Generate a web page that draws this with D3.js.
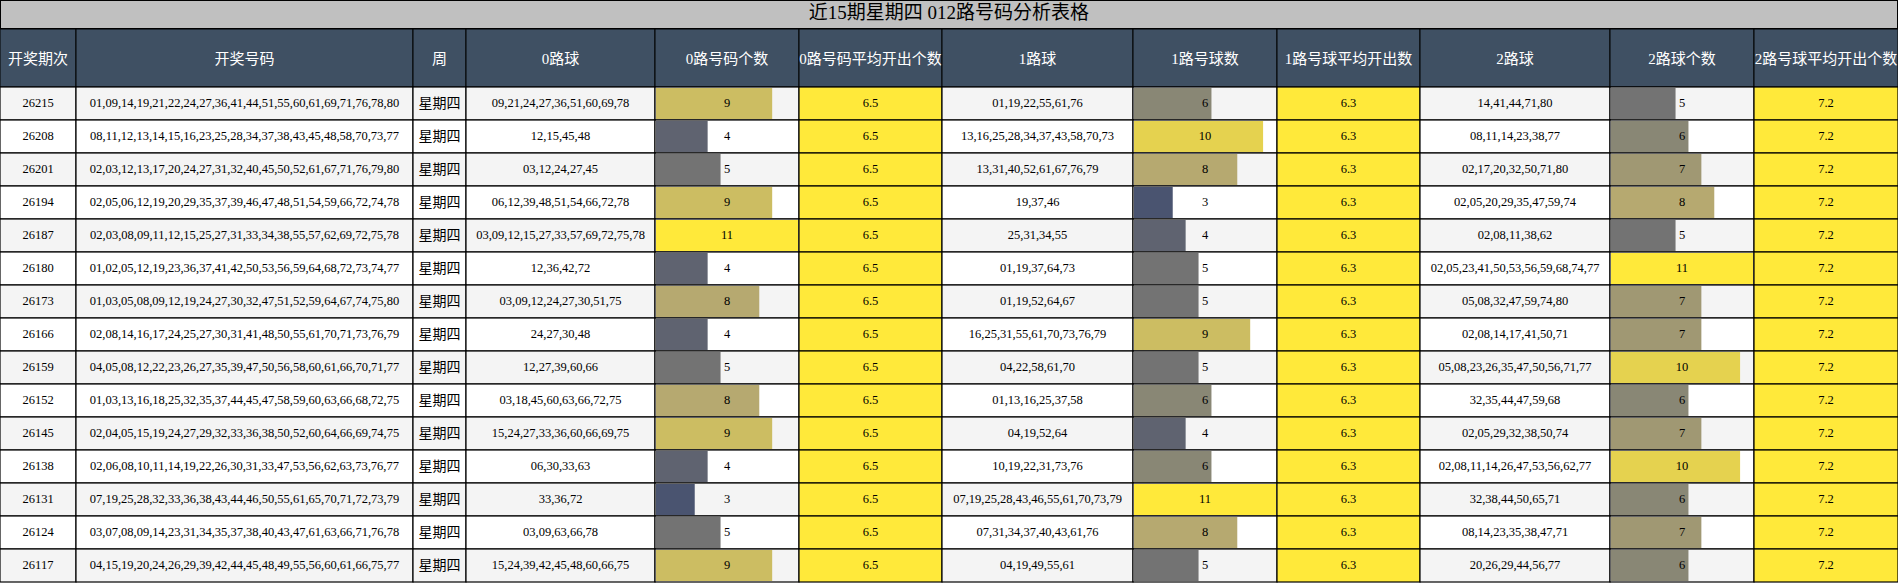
<!DOCTYPE html>
<html><head><meta charset="utf-8">
<script src="https://cdn.jsdelivr.net/npm/d3@7"></script>
<style>body{margin:0;background:#fff}svg{display:block}</style>
</head><body><div id="chart"></div>
<script>
const w = 1898, h = 583;
const titleH = 28, headH = 59, rowH = 33;
const title = '近15期星期四 012路号码分析表格';
const headers = ['开奖期次','开奖号码','周','0路球','0路号码个数','0路号码平均开出个数','1路球','1路号球数','1路号球平均开出数','2路球','2路球个数','2路号球平均开出个数'];
const colEdges = [0,76,413,466,655,799,942,1133,1277,1420,1610,1754,1898];

const periods = ['26215','26208','26201','26194','26187','26180','26173','26166','26159','26152','26145','26138','26131','26124','26117'];
const draws = [
 '01,09,14,19,21,22,24,27,36,41,44,51,55,60,61,69,71,76,78,80',
 '08,11,12,13,14,15,16,23,25,28,34,37,38,43,45,48,58,70,73,77',
 '02,03,12,13,17,20,24,27,31,32,40,45,50,52,61,67,71,76,79,80',
 '02,05,06,12,19,20,29,35,37,39,46,47,48,51,54,59,66,72,74,78',
 '02,03,08,09,11,12,15,25,27,31,33,34,38,55,57,62,69,72,75,78',
 '01,02,05,12,19,23,36,37,41,42,50,53,56,59,64,68,72,73,74,77',
 '01,03,05,08,09,12,19,24,27,30,32,47,51,52,59,64,67,74,75,80',
 '02,08,14,16,17,24,25,27,30,31,41,48,50,55,61,70,71,73,76,79',
 '04,05,08,12,22,23,26,27,35,39,47,50,56,58,60,61,66,70,71,77',
 '01,03,13,16,18,25,32,35,37,44,45,47,58,59,60,63,66,68,72,75',
 '02,04,05,15,19,24,27,29,32,33,36,38,50,52,60,64,66,69,74,75',
 '02,06,08,10,11,14,19,22,26,30,31,33,47,53,56,62,63,73,76,77',
 '07,19,25,28,32,33,36,38,43,44,46,50,55,61,65,70,71,72,73,79',
 '03,07,08,09,14,23,31,34,35,37,38,40,43,47,61,63,66,71,76,78',
 '04,15,19,20,24,26,29,39,42,44,45,48,49,55,56,60,61,66,75,77'];
const route0 = ['09,21,24,27,36,51,60,69,78','12,15,45,48','03,12,24,27,45','06,12,39,48,51,54,66,72,78','03,09,12,15,27,33,57,69,72,75,78','12,36,42,72','03,09,12,24,27,30,51,75','24,27,30,48','12,27,39,60,66','03,18,45,60,63,66,72,75','15,24,27,33,36,60,66,69,75','06,30,33,63','33,36,72','03,09,63,66,78','15,24,39,42,45,48,60,66,75'];
const count0 = [9,4,5,9,11,4,8,4,5,8,9,4,3,5,9];
const avg0 = 6.5;
const route1 = ['01,19,22,55,61,76','13,16,25,28,34,37,43,58,70,73','13,31,40,52,61,67,76,79','19,37,46','25,31,34,55','01,19,37,64,73','01,19,52,64,67','16,25,31,55,61,70,73,76,79','04,22,58,61,70','01,13,16,25,37,58','04,19,52,64','10,19,22,31,73,76','07,19,25,28,43,46,55,61,70,73,79','07,31,34,37,40,43,61,76','04,19,49,55,61'];
const count1 = [6,10,8,3,4,5,5,9,5,6,4,6,11,8,5];
const avg1 = 6.3;
const route2 = ['14,41,44,71,80','08,11,14,23,38,77','02,17,20,32,50,71,80','02,05,20,29,35,47,59,74','02,08,11,38,62','02,05,23,41,50,53,56,59,68,74,77','05,08,32,47,59,74,80','02,08,14,17,41,50,71','05,08,23,26,35,47,50,56,71,77','32,35,44,47,59,68','02,05,29,32,38,50,74','02,08,11,14,26,47,53,56,62,77','32,38,44,50,65,71','08,14,23,35,38,47,71','20,26,29,44,56,77'];
const count2 = [5,6,7,8,5,11,7,7,10,6,7,10,6,7,6];
const avg2 = 7.2;
const week = '星期四';

const svg = d3.select('#chart').append('svg').attr('width', w).attr('height', h);
const y = d3.scaleBand().domain(d3.range(periods.length)).range([titleH + headH, titleH + headH + rowH * periods.length]);
const barColor = d3.scaleLinear().domain([3,4,5,6,8,9,10,11])
  .range(['#4a5470','#5f6370','#737373','#898775','#b6a970','#ccbd62','#e5d24f','#ffe93a']);
const cjk = '"Noto Sans CJK SC", sans-serif';
const serif = '"Liberation Serif", "Noto Sans CJK SC", serif';

// title
svg.append('rect').attr('x', 0.5).attr('y', 0.5).attr('width', w - 1).attr('height', titleH).attr('fill', '#c0c0c0').attr('stroke', '#000');
svg.append('text').attr('x', w / 2).attr('y', titleH / 2 + 1).attr('text-anchor', 'middle').attr('dominant-baseline', 'middle')
  .style('font-family', serif).style('font-size', '19px').text(title);

// header
headers.forEach((t, i) => {
  const x0 = colEdges[i], cw = colEdges[i + 1] - x0;
  svg.append('rect').attr('x', x0).attr('y', titleH + 1).attr('width', cw).attr('height', headH - 1).attr('fill', '#3f5063').attr('stroke', '#000');
  const lines = t.length > 10 ? [t.slice(0, 9), t.slice(9)] : [t];
  const tx = svg.append('text').attr('text-anchor', 'middle').attr('fill', '#fff').style('font-family', serif).style('font-size', '15px');
  lines.forEach((l, k) => tx.append('tspan').attr('x', x0 + cw / 2)
    .attr('y', titleH + headH / 2 + 6 + (k - (lines.length - 1) / 2) * 20).text(l));
});

const xBar = d3.scaleLinear().domain([0, 11]);
const rows = periods.map((p, i) => [p, draws[i], week, route0[i], count0[i], avg0, route1[i], count1[i], avg1, route2[i], count2[i], avg2]);
const barCols = [4, 7, 10], avgCols = [5, 8, 11];

rows.forEach((r, i) => {
  const y0 = y(i), bg = i % 2 === 0 ? '#f4f4f4' : '#ffffff';
  r.forEach((v, c) => {
    const x0 = colEdges[c], cw = colEdges[c + 1] - x0;
    svg.append('rect').attr('x', x0).attr('y', y0).attr('width', cw).attr('height', rowH)
      .attr('fill', avgCols.includes(c) ? '#ffe93a' : bg).attr('stroke', '#000').attr('stroke-width', 1.2);
    if (barCols.includes(c)) {
      xBar.range([x0 + 1, x0 + cw - 1]);
      svg.append('rect').attr('x', x0 + 1).attr('y', y0 + 1).attr('width', xBar(v) - x0 - 1).attr('height', rowH - 2)
        .attr('fill', barColor(v));
    }
    svg.append('text').attr('x', x0 + cw / 2).attr('y', y0 + rowH / 2 + 1)
      .attr('text-anchor', 'middle').attr('dominant-baseline', 'middle')
      .style('font-family', c === 2 ? cjk : serif).style('font-size', c === 2 ? '14px' : '12.5px')
      .text(avgCols.includes(c) ? d3.format('.1f')(v) : v);
  });
});
</script></body></html>
